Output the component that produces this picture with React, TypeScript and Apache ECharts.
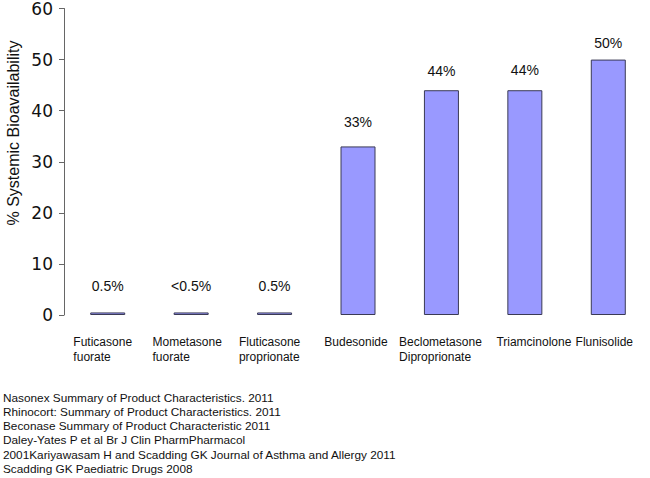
import React, { useEffect, useRef } from "react";
import * as echarts from "echarts";

const categories = [
  "Futicasone\nfuorate",
  "Mometasone\nfuorate",
  "Fluticasone\nproprionate",
  "Budesonide",
  "Beclometasone\nDiproprionate",
  "Triamcinolone",
  "Flunisolide",
];
const bioavailability = [0.5, 0.5, 0.5, 33, 44, 44, 50];
const barLabels = ["0.5%", "<0.5%", "0.5%", "33%", "44%", "44%", "50%"];
const yTicks = { min: 0, max: 60, interval: 10 };
const yTitle = "% Systemic Bioavailability";
const references = [
  "Nasonex Summary of Product Characteristics. 2011",
  "Rhinocort: Summary of Product Characteristics. 2011",
  "Beconase Summary of Product Characteristic 2011",
  "Daley-Yates P et al Br J Clin PharmPharmacol",
  "2001Kariyawasam H and Scadding GK Journal of Asthma and Allergy 2011",
  "Scadding GK Paediatric Drugs 2008",
];

const FONT = "'Liberation Sans', Arial, sans-serif";
// styling: vertical gap of value labels, horizontal shift of category labels
const labelGap = [19, 19, 19, 17, 12, 13, 10];
const catShift = [-5, -4, -5, -2, -1, 9, -4];

export default function App() {
  const ref = useRef<HTMLDivElement>(null);
  useEffect(() => {
    if (!ref.current) return;
    const chart = echarts.init(ref.current, undefined, { renderer: "svg" });
    const option = {
      animation: false,
      backgroundColor: "#ffffff",
      grid: { left: 66, top: 6, bottom: 163, width: 593 },
      xAxis: {
        type: "category",
        data: categories.map((c, i) => {
          const s = catShift[i];
          return {
            value: c,
            textStyle: {
              padding: s >= 0 ? [0, 0, 0, 2 * s] : [0, -2 * s, 0, 0],
            },
          };
        }),
        axisLine: { show: false },
        axisTick: { show: false },
        axisLabel: {
          interval: 0,
          margin: 19,
          formatter: (v: string) =>
            v
              .split("\n")
              .map((s) => "{a|" + s + "}")
              .join("\n"),
          rich: {
            a: {
              align: "left",
              fontSize: 12,
              lineHeight: 15,
              color: "#111",
              fontFamily: FONT,
            },
          },
        },
      },
      yAxis: {
        type: "value",
        min: yTicks.min,
        max: yTicks.max,
        interval: yTicks.interval,
        offset: 2,
        splitLine: { show: false },
        axisLine: { show: true, lineStyle: { color: "#666", width: 1 } },
        axisTick: { show: true, length: 5, lineStyle: { color: "#666" } },
        axisLabel: {
          margin: 11,
          fontSize: 17,
          color: "#111",
          fontFamily: "'DejaVu Sans', sans-serif",
        },
      },
      series: [
        {
          type: "bar",
          barWidth: 35,
          data: bioavailability.map((v, i) => ({
            value: v,
            label: {
              show: true,
              position: "top",
              distance: labelGap[i],
              formatter: barLabels[i],
              fontSize: 14,
              color: "#111",
              fontFamily: FONT,
            },
          })),
          itemStyle: {
            color: "#9999ff",
            borderColor: "#3a3a55",
            borderWidth: 1,
          },
        },
      ],
      graphic: [
        {
          type: "text",
          x: 13,
          y: 133,
          rotation: Math.PI / 2,
          style: {
            text: yTitle,
            fontSize: 16,
            fontFamily: FONT,
            fill: "#111",
            align: "center",
            verticalAlign: "middle",
          },
        },
        ...references.map((t, i) => ({
          type: "text",
          x: 3,
          y: 397.5 + i * 14.3,
          style: {
            text: t,
            fontSize: 11.8,
            fontFamily: FONT,
            fill: "#111",
            align: "left",
            verticalAlign: "middle",
          },
        })),
      ],
    };
    chart.setOption(option as any);
    return () => chart.dispose();
  }, []);
  return (
    <div
      ref={ref}
      style={{ position: "fixed", left: 0, top: 0, width: 650, height: 478 }}
    />
  );
}
